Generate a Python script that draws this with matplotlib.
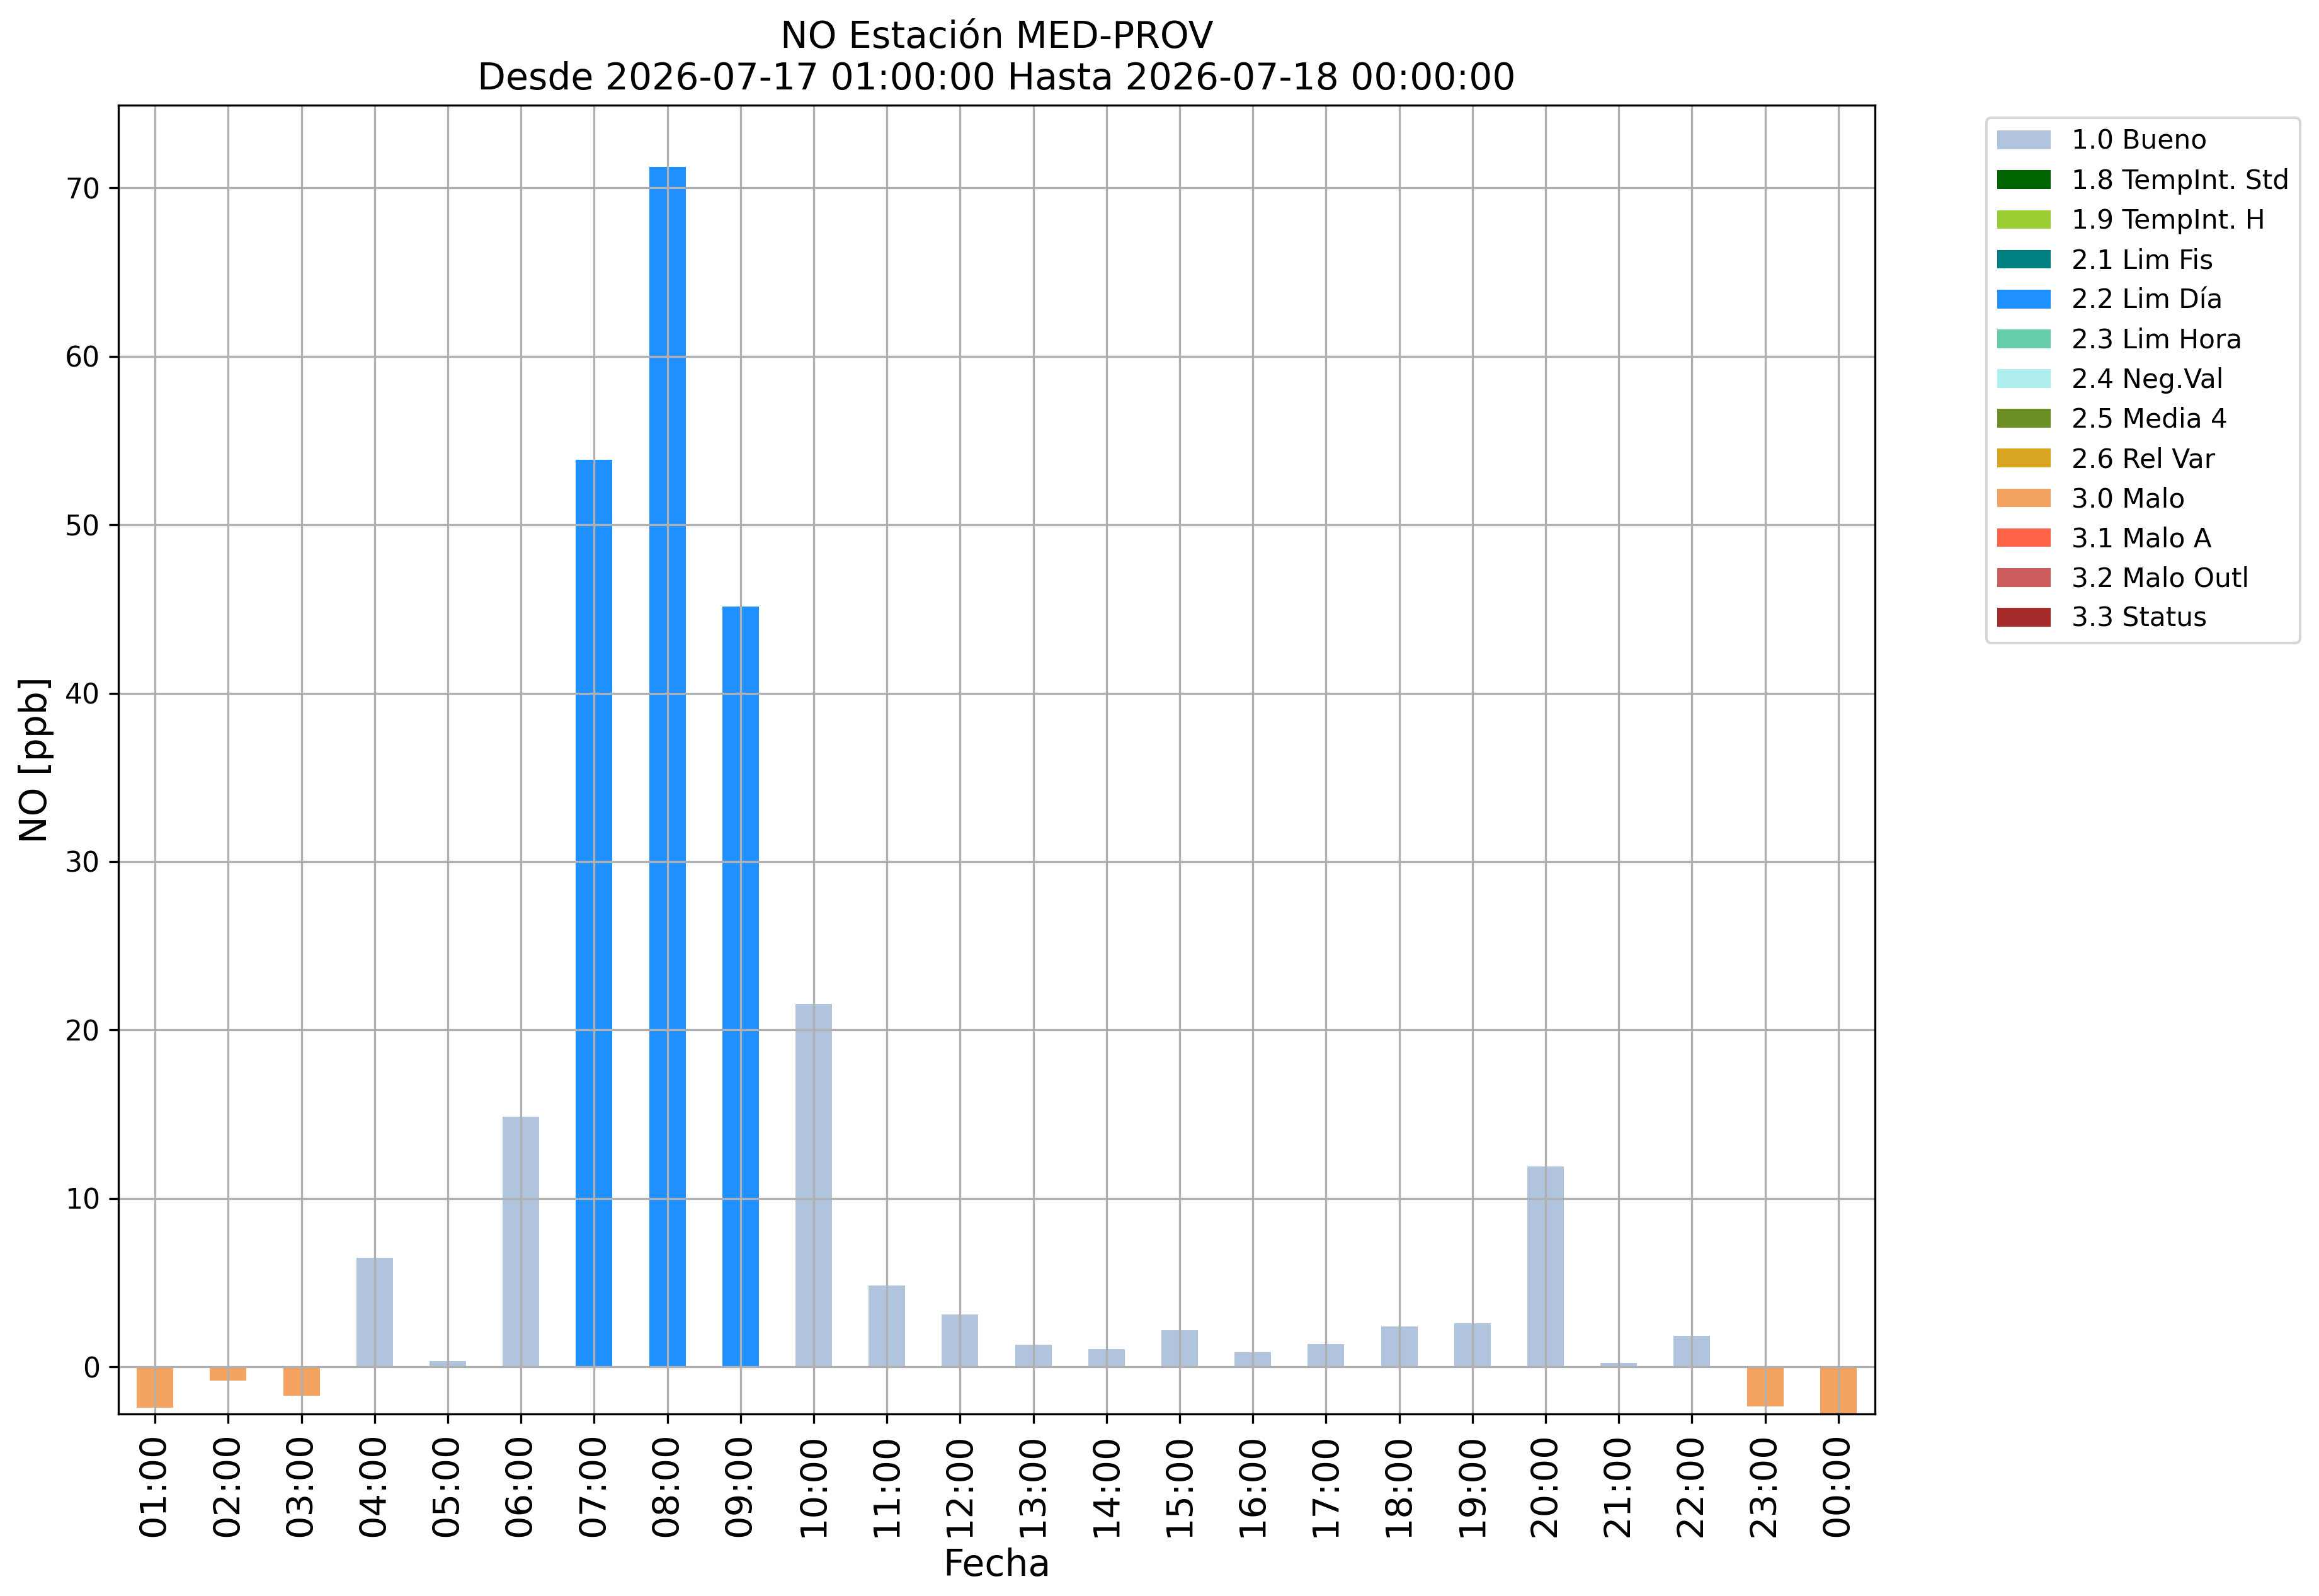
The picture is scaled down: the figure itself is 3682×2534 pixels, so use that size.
import matplotlib
matplotlib.use('Agg')
import matplotlib.pyplot as plt
from matplotlib.patches import Patch
import numpy as np

# hourly NO values and their validation flag
hours = ['01:00', '02:00', '03:00', '04:00', '05:00', '06:00', '07:00', '08:00',
         '09:00', '10:00', '11:00', '12:00', '13:00', '14:00', '15:00', '16:00',
         '17:00', '18:00', '19:00', '20:00', '21:00', '22:00', '23:00', '00:00']
no_values = [-2.42, -0.80, -1.70, 6.47, 0.36, 14.85, 53.84, 71.23,
             45.14, 21.55, 4.83, 3.11, 1.30, 1.05, 2.18, 0.86,
             1.34, 2.42, 2.58, 11.89, 0.23, 1.83, -2.35, -3.10]
flags = ['3.0', '3.0', '3.0', '1.0', '1.0', '1.0', '2.2', '2.2',
         '2.2', '1.0', '1.0', '1.0', '1.0', '1.0', '1.0', '1.0',
         '1.0', '1.0', '1.0', '1.0', '1.0', '1.0', '3.0', '3.0']

flag_codes = ['1.0', '1.8', '1.9', '2.1', '2.2', '2.3', '2.4', '2.5', '2.6',
              '3.0', '3.1', '3.2', '3.3']
flag_names = ['Bueno', 'TempInt. Std', 'TempInt. H', 'Lim Fis', 'Lim Día',
              'Lim Hora', 'Neg.Val', 'Media 4', 'Rel Var', 'Malo', 'Malo A',
              'Malo Outl', 'Status']
flag_colors = ['lightsteelblue', 'darkgreen', 'yellowgreen', 'teal', 'dodgerblue',
               'mediumaquamarine', 'paleturquoise', 'olivedrab', 'goldenrod',
               'sandybrown', 'tomato', 'indianred', 'brown']

color_map = dict(zip(flag_codes, flag_colors))
bar_colors = [color_map[f] for f in flags]

fig = plt.figure(figsize=(3682 / 300, 2534 / 300), dpi=300)
ax = fig.add_axes([0.0511, 0.114, 0.7574, 0.820])

x = np.arange(len(hours))
ax.bar(x, no_values, width=0.5, color=bar_colors)
ax.set_xlim(-0.5, len(hours) - 0.5)
ax.set_ylim(-2.8, 74.9)
ax.set_xticks(x)
ax.set_xticklabels(hours, rotation=90, fontsize=13.8)
ax.tick_params(axis='y', labelsize=10.6)
ax.grid(True)

ax.set_title('NO Estación MED-PROV\nDesde 2026-07-17 01:00:00 Hasta 2026-07-18 00:00:00',
             fontsize=14)
ax.set_xlabel('Fecha', fontsize=14)
ax.set_ylabel('NO [ppb]', fontsize=14)

handles = [Patch(facecolor=c, label=f'{code} {name}')
           for code, name, c in zip(flag_codes, flag_names, flag_colors)]
fig.legend(handles=handles, loc='upper left', fontsize=10.15,
           bbox_to_anchor=(3154 / 3682, 1 - 187 / 2534), borderaxespad=0)

fig.savefig('out.png', dpi=300)
